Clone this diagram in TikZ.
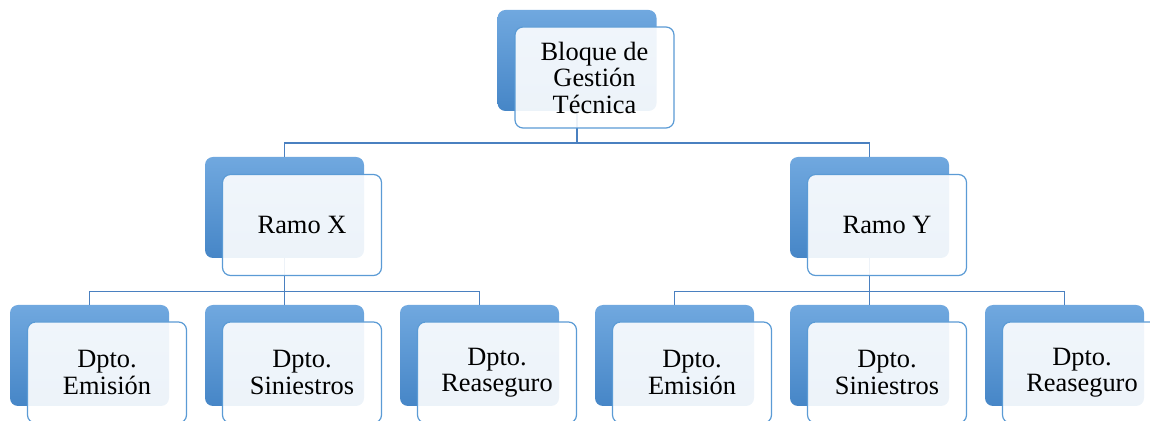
\documentclass[tikz,border=0pt]{standalone}
\usepackage{fontspec}
\setmainfont{Liberation Serif}
\definecolor{shadetop}{RGB}{112,168,223}
\definecolor{shadebot}{RGB}{70,134,199}
\definecolor{frameblue}{RGB}{91,155,213}
\definecolor{linkblue}{RGB}{74,128,192}
\tikzset{
  backbox/.style={rectangle, rounded corners=4pt, inner sep=0pt,
    minimum width=79.5pt, minimum height=50.5pt,
    top color=shadetop, bottom color=shadebot, draw=none},
  frontbox/.style={rectangle, rounded corners=4pt, inner sep=2pt,
    minimum width=79.5pt, minimum height=50.5pt,
    draw=frameblue, line width=0.6pt, fill=white, fill opacity=0.9,
    text opacity=1, draw opacity=1, align=center,
    font=\fontsize{13.2}{13.25}\selectfont},
  link/.style={draw=linkblue, line width=0.65pt}
}
\begin{document}
\begin{tikzpicture}[x=0.5pt, y=-0.5pt]
  \useasboundingbox (0,0) rectangle (1150,421);
  \clip (0,0) rectangle (1150,421);

  % shaded back plates
  \node[backbox] (bt) at (577,60.5) {};
  \node[backbox] (bx) at (284.5,207.5) {};
  \node[backbox] (by) at (869.5,207.5) {};
  \node[backbox] (b1) at (89.5,355.5) {};
  \node[backbox] (b2) at (284.5,355.5) {};
  \node[backbox] (b3) at (479.5,355.5) {};
  \node[backbox] (b4) at (674.5,355.5) {};
  \node[backbox] (b5) at (869.5,355.5) {};
  \node[backbox] (b6) at (1064.5,355.5) {};

  % connectors
  \coordinate (j0) at (577,143);
  \draw[link] (bt.south) -- (j0) -| (bx.north);
  \draw[link] (j0) -| (by.north);
  \coordinate (jx) at (284.5,291.5);
  \draw[link] (bx.south) -- (jx) -| (b1.north);
  \draw[link] (jx) -| (b3.north);
  \draw[link] (jx) -- (b2.north);
  \coordinate (jy) at (869.5,291.5);
  \draw[link] (by.south) -- (jy) -| (b4.north);
  \draw[link] (jy) -| (b6.north);
  \draw[link] (jy) -- (b5.north);

  % text panels
  \node[frontbox] (ft) at (594.5,77.5) {Bloque de\\Gestión\\Técnica};
  \node[frontbox] (fx) at (302,225) {Ramo X};
  \node[frontbox] (fy) at (887,225) {Ramo Y};
  \node[frontbox] (f1) at (107,372.5) {Dpto.\\Emisión};
  \node[frontbox] (f2) at (302,372.5) {Dpto.\\Siniestros};
  \node[frontbox] (f3) at (497,372.5) {Dpto.\\Reaseguro};
  \node[frontbox] (f4) at (692,372.5) {Dpto.\\Emisión};
  \node[frontbox] (f5) at (887,372.5) {Dpto.\\Siniestros};
  \node[frontbox] (f6) at (1082,372.5) {Dpto.\\Reaseguro};
\end{tikzpicture}
\end{document}
